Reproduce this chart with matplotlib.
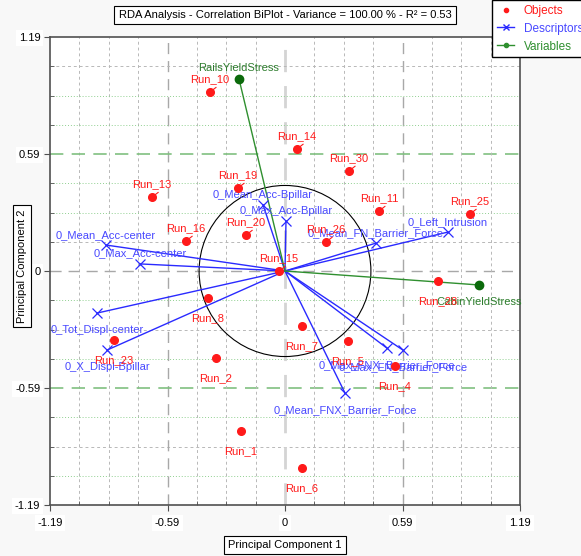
import numpy as np
import matplotlib.pyplot as plt
from matplotlib.patches import Circle
from matplotlib.lines import Line2D

plt.rcParams['font.family'] = ['Liberation Sans', 'DejaVu Sans']

# Objects (runs)
obj_names = ["Run_10", "Run_14", "Run_30", "Run_13", "Run_19", "Run_16", "Run_20",
             "Run_15", "Run_26", "Run_11", "Run_25", "Run_28", "Run_8", "Run_23",
             "Run_2", "Run_7", "Run_5", "Run_4", "Run_1", "Run_6"]
obj_x = [-0.380, 0.061, 0.324, -0.673, -0.238, -0.501, -0.197, -0.030, 0.208, 0.476,
         0.937, 0.775, -0.390, -0.866, -0.349, 0.086, 0.319, 0.557, -0.223, 0.086]
obj_y = [0.910, 0.621, 0.509, 0.376, 0.422, 0.153, 0.183, 0.000, 0.148, 0.305,
         0.290, -0.051, -0.137, -0.351, -0.443, -0.280, -0.356, -0.483, -0.814, -1.002]

# Descriptors
desc_names = ["0_Mean_Acc-center", "0_Max_Acc-center", "0_Mean_Acc-Bpillar",
              "0_Max_Acc-Bpillar", "0_Mean_FN_Barrier_Force", "0_Left_Intrusion",
              "0_Tot_Displ-center", "0_X_Displ-Bpillar", "0_Mean_FNX_Barrier_Force",
              "0_Max_FNX_Barrier_Force", "0_Max_FN_Barrier_Force"]
desc_x = [-0.906, -0.734, -0.111, 0.005, 0.461, 0.825, -0.952, -0.901, 0.304, 0.516, 0.597]
desc_y = [0.132, 0.036, 0.336, 0.254, 0.142, 0.198, -0.214, -0.402, -0.621, -0.392, -0.402]

# Variables
var_names = ["RailsYieldStress", "CabinYieldStress"]
var_x = [-0.233, 0.982]
var_y = [0.977, -0.071]

tick_vals = [-1.19, -0.595, 0, 0.595, 1.19]
tick_labels = ["-1.19", "-0.59", "0", "0.59", "1.19"]

# label placement (layout only)
obj_below = {"Run_28", "Run_8", "Run_23", "Run_2", "Run_7", "Run_5", "Run_4", "Run_1", "Run_6"}
desc_below = {"0_Tot_Displ-center", "0_X_Displ-Bpillar", "0_Mean_FNX_Barrier_Force",
              "0_Max_FNX_Barrier_Force", "0_Max_FN_Barrier_Force"}
var_below = {"CabinYieldStress"}

red = '#ff1a1a'
blue = '#2a2aff'
green = '#2f8f2f'
fs = 8

fig = plt.figure(figsize=(5.81, 5.56), dpi=100, facecolor='#f8f8f8')
ax = fig.add_axes([50/581, 51/556, 470/581, 468/556])
ax.set_facecolor('white')
ax.set_xlim(-1.19, 1.19)
ax.set_ylim(-1.19, 1.19)

# grid
step = 1.19 / 8
gray_rows = [7, 1, -2, -6]
for k in range(-7, 8):
    p = k * step
    if k == 0:
        ax.axvline(p, color='#d4d4d4', lw=2, ls=(0, (8, 5)), zorder=0)
        ax.axhline(p, color='#a8a8a8', lw=1, ls=(0, (8, 5)), zorder=0)
        continue
    if abs(k) == 4:
        ax.axvline(p, color='#a8a8a8', lw=1, ls=(0, (8, 5)), zorder=0)
        ax.axhline(p, color='#80c080', lw=1.2, ls=(0, (8, 5)), zorder=0)
        continue
    ax.axvline(p, color='#b8b8b8', lw=0.7, ls=(0, (3, 3)), zorder=0)
    if k in gray_rows:
        ax.axhline(p, color='#b8b8b8', lw=0.7, ls=(0, (3, 3)), zorder=0)
    else:
        ax.axhline(p, color='#90d090', lw=0.7, ls=(0, (1, 2)), zorder=0)

ax.add_patch(Circle((0, 0), 0.435, fill=False, ec='black', lw=0.8, zorder=1))

# descriptors
for n, x, y in zip(desc_names, desc_x, desc_y):
    ax.plot([0, x], [0, y], color=blue, lw=1, zorder=2)
    ax.plot(x, y, marker='x', color=blue, ms=7, mew=0.9, zorder=3)
    dy = -12.5 if n in desc_below else 7.5
    ax.annotate(n, (x, y), xytext=(0, dy), textcoords='offset points',
                ha='center', va='center', color='#4848ff', fontsize=fs, zorder=4)

# variables
for n, x, y in zip(var_names, var_x, var_y):
    ax.plot([0, x], [0, y], color=green, lw=1, zorder=2)
    ax.plot(x, y, marker='o', color='#0b6a0b', ms=6, zorder=3)
    dy = -12 if n in var_below else 7.5
    ax.annotate(n, (x, y), xytext=(0, dy), textcoords='offset points',
                ha='center', va='center', color='#2e7d2e', fontsize=fs, zorder=4)

# objects
ax.plot(obj_x, obj_y, 'o', color=red, ms=5.5, ls='none', zorder=5)
for n, x, y in zip(obj_names, obj_x, obj_y):
    if n in obj_below:
        ax.annotate(n, (x, y), xytext=(0, -14.5), textcoords='offset points',
                    ha='center', va='center', color=red, fontsize=fs, zorder=6)
    else:
        ax.annotate(n, (x, y), xytext=(0, 9), textcoords='offset points',
                    ha='center', va='center', color=red, fontsize=fs, zorder=6,
                    arrowprops=dict(arrowstyle='-', color=red, lw=0.8,
                                    relpos=(0.75, 0.0), shrinkA=0, shrinkB=3))

# axes styling
for s in ax.spines.values():
    s.set_color('#505050')
    s.set_linewidth(1.2)
ax.set_xticks(tick_vals, tick_labels)
ax.set_yticks(tick_vals, tick_labels)
ax.set_xticks([k * step for k in range(-8, 9)], minor=True)
ax.set_yticks([k * step for k in range(-8, 9)], minor=True)
ax.tick_params(which='major', direction='out', length=4, color='#505050', labelsize=fs, pad=3)
ax.tick_params(axis='x', which='major', pad=5.5)
ax.tick_params(which='minor', direction='in', length=3, color='#505050')
for lbl in ax.get_xticklabels() + ax.get_yticklabels():
    lbl.set_bbox(dict(facecolor='white', edgecolor='none', pad=2))

box = dict(facecolor='white', edgecolor='black', lw=0.8, pad=3)
fig.text(285/581, 1 - 15/556, "RDA Analysis - Correlation BiPlot - Variance = 100.00 % - R² = 0.53",
         ha='center', va='center', fontsize=fs, bbox=box)
fig.text(285/581, 1 - 545/556, "Principal Component 1", ha='center', va='center',
         fontsize=fs, bbox=box)
fig.text(22/581, 1 - 266/556, "Principal Component 2", ha='center', va='center',
         rotation=90, fontsize=fs, bbox=box)

handles = [Line2D([], [], ls='none', marker='o', color=red, ms=3),
           Line2D([], [], color=blue, marker='x', ms=4, lw=1),
           Line2D([], [], color=green, marker='o', ms=3, lw=1)]
fig.legend(handles, ["Objects", "Descriptors", "Variables"], loc='upper right',
           bbox_to_anchor=(1.012, 1.0), fancybox=False, edgecolor='black', framealpha=1,
           fontsize=fs + 0.5, handlelength=1.5, labelcolor=[red, '#4848ff', green],
           borderaxespad=0)
fig.add_artist(Line2D([578/581], [1 - 46/556], marker='o', color=red, ms=2.5,
                      transform=fig.transFigure))

plt.savefig("out.png", dpi=100, facecolor=fig.get_facecolor())
